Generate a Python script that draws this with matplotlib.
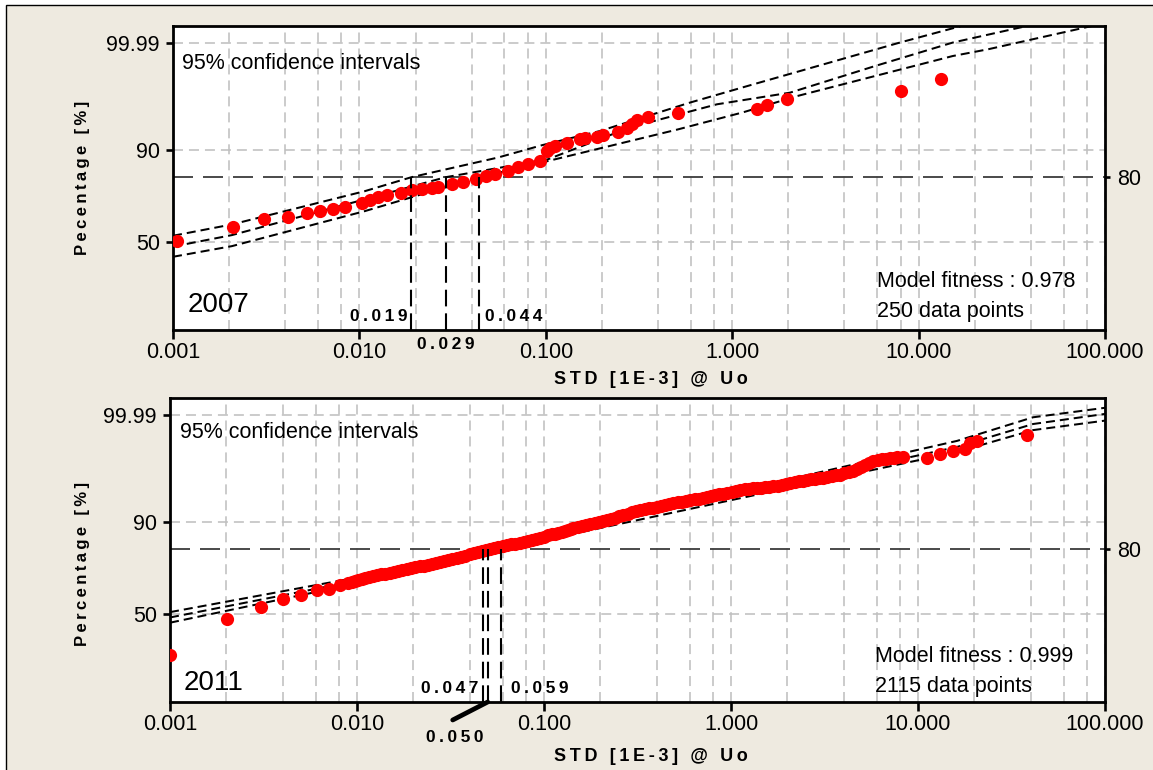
import matplotlib
matplotlib.use("Agg")
import matplotlib.pyplot as plt
import matplotlib.transforms as mtransforms
import numpy as np
from matplotlib.patches import Rectangle
from matplotlib.ticker import LogLocator, NullFormatter, NullLocator

plt.rcParams["font.family"] = ["Liberation Sans", "DejaVu Sans"]
plt.rcParams["lines.scale_dashes"] = False

# ---- 2007: STD [1E-3] @ Uo against cumulative percentage --------------------
std2007 = [0.00105, 0.00209, 0.00309, 0.00416, 0.00521, 0.00615, 0.0072, 0.00837,
           0.01028, 0.0114, 0.0126, 0.0140, 0.01666, 0.0191, 0.0216, 0.0244, 0.0265,
           0.0313, 0.0361, 0.042, 0.0475, 0.0534, 0.063, 0.0713, 0.0806, 0.0931,
           0.1011, 0.1054, 0.112, 0.1295, 0.1525, 0.1623, 0.1876, 0.2036, 0.245,
           0.2718, 0.289, 0.3075, 0.3548, 0.514, 1.352, 1.531, 1.958, 8.02, 13.14]
pct2007 = [50.4, 56.9, 60.5, 61.5, 63.4, 64.5, 65.6, 66.3,
           68.5, 69.6, 71.3, 72.1, 73.2, 74.2, 74.7, 75.1, 75.9,
           76.9, 77.9, 79.4, 80.5, 81.5, 82.5, 84.1, 85.1, 86.3,
           89.6, 90.6, 91.1, 92.0, 92.8, 93.07, 93.5, 93.8, 94.5,
           95.35, 95.95, 96.7, 97.1, 97.6, 97.97, 98.35, 98.82, 99.291, 99.685]

ci2007UpperX = [0.001, 0.00207, 0.01072, 0.019, 0.0554, 0.0954, 0.1954, 0.594, 1.246, 7.93, 17.5]
ci2007UpperP = [52.8, 58.1, 73.9, 80.0, 87.5, 91.3, 94.7, 98.58, 99.515, 99.9908, 99.99912]
ci2007MidX = [0.001, 0.00207, 0.01072, 0.029, 0.1027, 0.283, 0.829, 2.042, 5.844, 15.24, 39.6]
ci2007MidP = [47.9, 53.1, 70.1, 80.0, 86.9, 95.4, 98.44, 99.21, 99.894, 99.9908, 99.99912]
ci2007LowX = [0.001, 0.00207, 0.01072, 0.044, 0.0823, 0.509, 1.143, 2.239, 15.24, 23.6, 88.4]
ci2007LowP = [43.5, 48.1, 64.5, 80.0, 84.7, 95.0, 97.64, 99.03, 99.959, 99.980, 99.99912]

# ---- 2011: sparse low tail, dense body, sparse high tail ----------------------
std2011 = [0.001, 0.00201, 0.00307, 0.0040, 0.00502, 0.00609, 0.00708, 0.00811, 0.00899,
           0.00940, 0.00975, 0.01012, 0.01057, 0.01104, 0.0116, 0.01218, 0.0128, 0.01344,
           0.0142, 0.01501, 0.0158, 0.01657, 0.0175, 0.01851, 0.0194, 0.02043, 0.0216,
           0.02282, 0.0240, 0.02518, 0.0265, 0.02779, 0.0292, 0.03066, 0.0324, 0.03426,
           0.0360, 0.03780, 0.0400, 0.04223, 0.0444, 0.04660, 0.0490, 0.05143, 0.0540,
           0.05675, 0.0600, 0.06341, 0.0666, 0.06996, 0.0740, 0.07817, 0.0821, 0.08625,
           0.0906, 0.09519, 0.1000, 0.1051, 0.1097, 0.1145, 0.1195, 0.1248, 0.1295,
           0.1344, 0.1386, 0.1429, 0.1511, 0.1597, 0.1678, 0.1762, 0.1863, 0.1969,
           0.2068, 0.2172, 0.2282, 0.2397, 0.2518, 0.2646, 0.2796, 0.2955, 0.3105,
           0.3262, 0.3447, 0.3643, 0.3827, 0.4021, 0.4224, 0.4437, 0.4661, 0.4896,
           0.5175, 0.5470, 0.5746, 0.6035, 0.6380, 0.6744, 0.7084, 0.7441, 0.7817,
           0.8212, 0.8627, 0.9062, 0.9577, 1.012, 1.063, 1.117, 1.181, 1.248,
           1.311, 1.377, 1.447, 1.520, 1.597, 1.677, 1.773, 1.874, 1.969,
           2.068, 2.186, 2.310, 2.427, 2.549, 2.678, 2.813, 2.955, 3.104,
           3.281, 3.468, 3.643, 3.827, 4.045, 4.276, 4.492, 4.718, 4.957,
           5.207, 5.470, 5.746, 6.074, 6.420, 6.744, 7.085, 7.397, 7.722, 8.315,
           11.13, 13.11, 15.45, 17.84, 18.97, 20.60, 38.14]
pct2011 = [33.2, 47.5, 53.1, 56.8, 58.7, 61.0, 61.6, 63.5, 64.5,
           65.2, 65.6, 65.95, 66.4, 66.8, 67.25, 67.7, 68.15, 68.6,
           69.05, 69.5, 69.95, 70.4, 70.8, 71.2, 71.6, 72.0, 72.4,
           72.75, 73.1, 73.5, 74.0, 74.45, 74.9, 75.4, 75.9, 76.35,
           76.8, 77.3, 77.75, 78.2, 78.65, 79.1, 79.55, 80.0, 80.45,
           80.9, 81.25, 81.6, 81.95, 82.3, 82.6, 82.95, 83.3, 83.6,
           84.1, 84.55, 85.0, 85.5, 85.8, 86.1, 86.4, 86.7, 87.0,
           87.3, 87.6, 87.9, 88.2, 88.55, 88.9, 89.2, 89.5, 89.85,
           90.2, 90.5, 90.85, 91.2, 91.55, 91.9, 92.25, 92.55, 92.9,
           93.2, 93.4, 93.55, 93.7, 93.9, 94.1, 94.3, 94.5, 94.7,
           94.85, 95.0, 95.15, 95.3, 95.4, 95.5, 95.6, 95.75, 95.95,
           96.1, 96.25, 96.4, 96.55, 96.7, 96.8, 96.95, 97.0, 97.1,
           97.15, 97.2, 97.25, 97.3, 97.35, 97.4, 97.5, 97.6, 97.7,
           97.8, 97.9, 97.97, 98.05, 98.13, 98.18, 98.22, 98.26, 98.30,
           98.38, 98.45, 98.52, 98.58, 98.68, 98.77, 98.86, 98.94, 99.06,
           99.17, 99.27, 99.37, 99.41, 99.44, 99.47, 99.50, 99.505, 99.51, 99.52,
           99.50, 99.625, 99.694, 99.729, 99.843, 99.864, 99.918]

ci2011UpperX = [0.001, 0.009, 0.047, 16.2, 41.2, 100.0]
ci2011UpperP = [50.8, 66.4, 80.0, 99.864, 99.9873, 99.9961]
ci2011MidX = [0.001, 0.009, 0.050, 16.2, 41.2, 100.0]
ci2011MidP = [48.4, 64.8, 80.0, 99.776, 99.973, 99.9915]
ci2011LowX = [0.001, 0.009, 0.059, 16.2, 41.2, 100.0]
ci2011LowP = [46.1, 63.5, 80.0, 99.670, 99.9495, 99.9814]

crossing2007 = [0.019, 0.029, 0.044]
crossing2011 = [0.047, 0.050, 0.059]
crossingLevel = 80

fitness2007, points2007 = 0.978, 250
fitness2011, points2011 = 0.999, 2115

xTicks = [0.001, 0.01, 0.1, 1, 10, 100]
xTickLabels = ["0.001", "0.010", "0.100", "1.000", "10.000", "100.000"]
yTicks = [50, 90, 99.99]
yTickLabels = ["50", "90", "99.99"]
yLimits = (19.75, 99.99902)

GRID_GRAY = "#C0C0C0"
DOT_RED = "#FF0000"


def weibullForward(p):
    p = np.clip(np.asarray(p, dtype=float), 1e-6, 100 - 1e-7)
    return np.log(-np.log(1.0 - p / 100.0))


def weibullInverse(w):
    return 100.0 * (1.0 - np.exp(-np.exp(np.asarray(w, dtype=float))))


def spaced(text):
    return "\u2009".join(text)


def setupAxis(ax):
    ax.set_facecolor("white")
    ax.set_xscale("log")
    ax.set_yscale("function", functions=(weibullForward, weibullInverse))
    ax.set_xlim(xTicks[0], xTicks[-1])
    ax.set_ylim(*yLimits)
    ax.set_xticks(xTicks, xTickLabels)
    ax.xaxis.set_minor_locator(LogLocator(base=10, subs=[2, 4, 6, 8]))
    ax.xaxis.set_minor_formatter(NullFormatter())
    ax.set_yticks(yTicks, yTickLabels)
    ax.yaxis.set_minor_locator(NullLocator())
    ax.tick_params(axis="x", which="major", direction="out", length=6.5, width=1.9,
                   labelsize=15.5, pad=2)
    ax.tick_params(axis="y", which="major", direction="out", length=5.4, width=1.9,
                   labelsize=15.5, pad=4)
    ax.tick_params(which="minor", length=0)
    gridStyle = dict(color=GRID_GRAY, linewidth=1.15, linestyle=(0, (7.2, 4.3)))
    ax.grid(True, which="both", axis="x", **gridStyle)
    ax.grid(True, which="major", axis="y", **gridStyle)
    ax.set_axisbelow(True)
    for spine in ax.spines.values():
        spine.set_linewidth(2.0)

    # right-hand reference tick for the 80 % level
    twin = ax.twinx()
    twin.set_yscale("function", functions=(weibullForward, weibullInverse))
    twin.set_ylim(*yLimits)
    twin.set_yticks([crossingLevel], [f"{crossingLevel}"])
    twin.yaxis.set_minor_locator(NullLocator())
    twin.tick_params(axis="y", length=3.5, width=1.9, labelsize=15.5, pad=5)
    for spine in twin.spines.values():
        spine.set_visible(False)


def drawPanel(ax, std, pct, ciLines, crossings, crossingLabels, year, fitness, nPoints,
              yLabel, textPos, yLabelPos, xLabelPos):
    setupAxis(ax)
    blend = mtransforms.blended_transform_factory(ax.transData, ax.transAxes)

    ax.axhline(crossingLevel, color="#3C3C3C", linewidth=1.3,
               linestyle=(0, (14.4, 7.2)), zorder=2)
    for ciX, ciP in ciLines:
        ax.plot(ciX, ciP, color="black", linewidth=1.45,
                linestyle=(0, (6.5, 3.6)), zorder=2.5)
    ax.plot(std, pct, "o", color=DOT_RED, markersize=9.5, markeredgewidth=0, zorder=3)

    lc = ax.vlines(crossings, yLimits[0], crossingLevel, color="black", linewidth=1.5, zorder=4)
    lc.set_linestyle((0, (12.0, 5.0)))

    for value, (dx, yAx, ha) in zip(crossings, crossingLabels):
        if ha is None:
            continue
        ax.annotate(spaced(f"{value:.3f}"), xy=(value, yAx), xycoords=blend,
                    xytext=(dx, 0), textcoords="offset pixels", ha=ha, va="center",
                    fontsize=12.5, fontweight="bold", annotation_clip=False)

    ax.text(textPos["conf"][0], textPos["conf"][1], "95% confidence intervals",
            transform=ax.transAxes, fontsize=15.5, va="center", ha="left")
    ax.text(textPos["year"][0], textPos["year"][1], year,
            transform=ax.transAxes, fontsize=20, va="center", ha="left")
    ax.text(textPos["fit"][0], textPos["fit"][1], f"Model fitness : {fitness:.3f}",
            transform=ax.transAxes, fontsize=15.5, va="center", ha="left")
    ax.text(textPos["pts"][0], textPos["pts"][1], f"{nPoints} data points",
            transform=ax.transAxes, fontsize=15.5, va="center", ha="left")

    ax.set_ylabel(spaced(yLabel), fontsize=12, fontweight="bold")
    ax.yaxis.set_label_coords(*yLabelPos)
    ax.set_xlabel(spaced("STD [1E-3] @ Uo"), fontsize=13, fontweight="bold")
    ax.xaxis.set_label_coords(*xLabelPos)
    return blend


fig = plt.figure(figsize=(11.53, 7.70), dpi=100, facecolor="white")
fig.patches.append(Rectangle((6 / 1153, -0.01), 1.0, 1.01 - 5 / 770,
                             transform=fig.transFigure, facecolor="#EEEAE0",
                             edgecolor="black", linewidth=1.0, zorder=-1))

axTop = fig.add_axes([173 / 1153, 440 / 770, 932 / 1153, 304 / 770])
axBottom = fig.add_axes([170 / 1153, 68 / 770, 935 / 1153, 304 / 770])

drawPanel(
    axTop, std2007, pct2007,
    [(ci2007UpperX, ci2007UpperP), (ci2007MidX, ci2007MidP), (ci2007LowX, ci2007LowP)],
    crossing2007,
    [(-4, 0.043, "right"), (0, -0.049, "center"), (6, 0.043, "left")],
    "2007", fitness2007, points2007, "Pecentage [%]",
    {"conf": (0.0097, 0.878), "year": (0.016, 0.082),
     "fit": (0.7554, 0.158), "pts": (0.7554, 0.0625)},
    (-0.089, 0.5), (0.513, -0.135),
)

blendBottom = drawPanel(
    axBottom, std2011, pct2011,
    [(ci2011UpperX, ci2011UpperP), (ci2011MidX, ci2011MidP), (ci2011LowX, ci2011LowP)],
    crossing2011,
    [(-4, 0.043, "right"), (0, 0.0, None), (10, 0.043, "left")],
    "2011", fitness2011, points2011, "Percentage [%]",
    {"conf": (0.0107, 0.885), "year": (0.015, 0.0625),
     "fit": (0.754, 0.151), "pts": (0.754, 0.0526)},
    (-0.0856, 0.454), (0.514, -0.152),
)

# the middle 2011 crossing is labelled below the axis with a leader line
midCrossing = crossing2011[1]
axBottom.annotate("", xy=(midCrossing, 0.0), xycoords=blendBottom,
                  xytext=(-35, -18), textcoords="offset pixels",
                  arrowprops=dict(arrowstyle="-", linewidth=3.4, color="black",
                                  shrinkA=0, shrinkB=0),
                  annotation_clip=False)
axBottom.annotate(spaced(f"{midCrossing:.3f}"), xy=(midCrossing, 0.0), xycoords=blendBottom,
                  xytext=(-33, -35), textcoords="offset pixels", ha="center", va="center",
                  fontsize=12.5, fontweight="bold", annotation_clip=False)

fig.savefig("out.png", dpi=100)
